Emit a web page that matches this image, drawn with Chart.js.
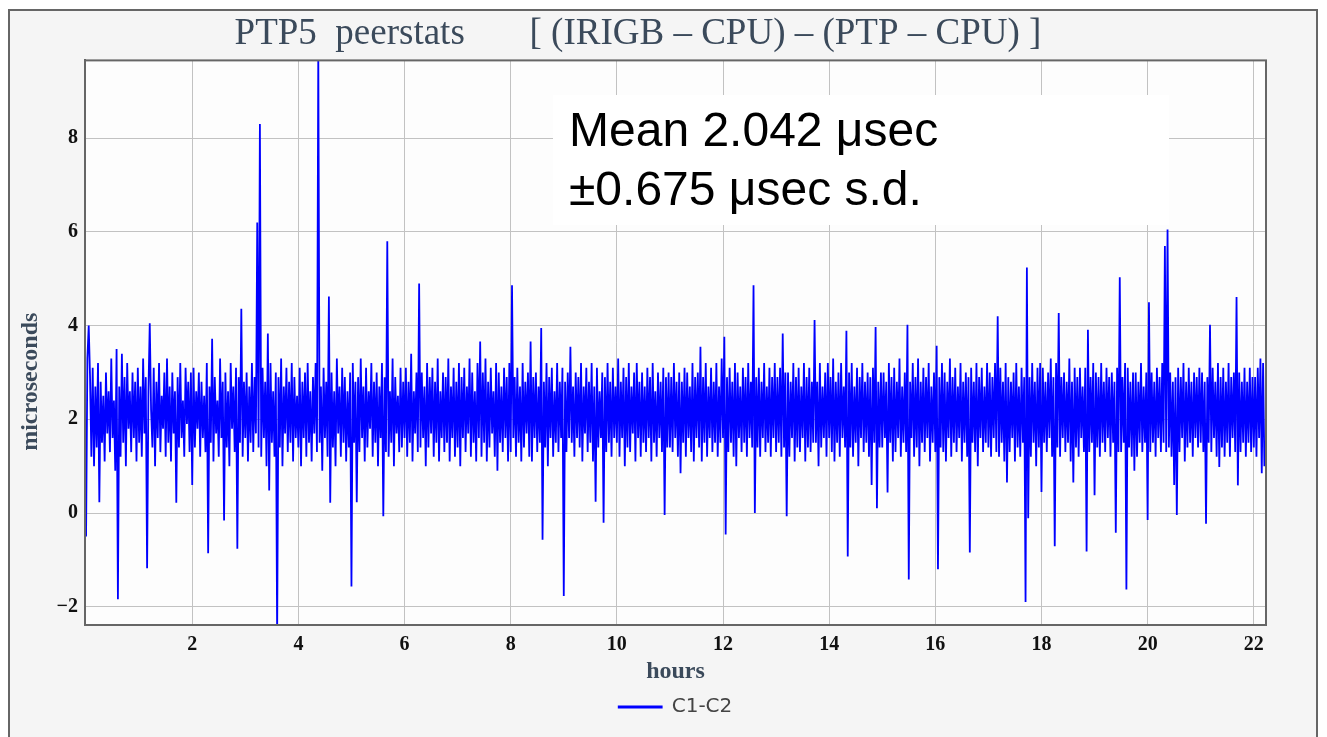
<!DOCTYPE html>
<html>
<head>
<meta charset="utf-8">
<script src="https://cdn.jsdelivr.net/npm/chart.js@4.4.1/dist/chart.umd.min.js"></script>
<style>
  html, body { margin: 0; padding: 0; background: #fff; }
</style>
</head>
<body>
<canvas id="myChart" width="1327" height="737"></canvas>
<script>
const canvas = document.getElementById('myChart')

// one reading every 0.025 h (90 s), values in microseconds
const sampleHours = 0.025

// C1-C2 offset, one row per hour
const c1c2Hours0to5 = [
  -0.5, 3.3, 4.0, 2.9, 1.2, 3.1, 1.0, 2.7, 1.4, 3.2, 0.23, 2.8, 1.5, 2.5, 1.1, 3.0, 1.7, 2.6, 1.3, 3.3,
  1.6, 2.4, 0.9, 3.5, -1.84, 2.7, 1.2, 3.4, 1.5, 2.9, 1.0, 3.2, 1.8, 2.6, 1.3, 3.0, 1.6, 2.8, 1.1, 3.1,
  1.5, 2.7, 1.2, 3.3, 1.7, 2.9, -1.18, 2.6, 4.05, 2.2, 1.4, 3.1, 1.0, 2.8, 1.6, 3.2, 1.3, 2.5, 1.8, 3.0,
  1.2, 3.3, 1.5, 2.7, 1.1, 3.0, 1.7, 2.6, 0.22, 2.9, 1.4, 3.2, 1.6, 2.4, 1.2, 3.1, 1.9, 2.8, 1.3, 3.0,
  0.6, 3.1, 1.4, 2.6, 1.8, 3.0, 1.2, 2.8, 1.6, 2.5, 1.3, 3.2, -0.86, 2.7, 1.5, 3.72, 1.1, 2.9, 1.7, 2.4,
  1.2, 3.3, 1.6, 2.8, -0.16, 3.0, 1.4, 2.6, 1.0, 3.2, 1.8, 2.7, 1.3, 3.1, -0.76, 2.9, 1.5, 4.36, 1.2, 2.8,
  1.6, 3.0, 1.1, 2.7, 1.5, 3.2, 1.3, 2.9, 1.7, 6.2, 1.4, 8.3, 1.2, 3.1, 1.6, 2.8, 1.0, 3.83, 0.48, 3.2,
  1.5, 2.6, 1.2, 3.0, -2.6, 2.9, 1.4, 3.3, 1.0, 2.7, 1.7, 3.1, 1.3, 2.8, 1.5, 3.2, 1.1, 2.9, 1.6, 2.5,
  1.4, 3.1, 1.0, 2.8, 1.6, 3.0, 1.2, 3.2, 1.5, 2.6, 1.1, 2.9, 1.7, 3.2, 1.3, 9.9, 1.5, 2.7, 0.9, 3.1,
  1.6, 2.8, 1.2, 4.62, 0.22, 3.0, 1.4, 2.6, 1.0, 3.3, 1.7, 2.7, 1.2, 3.1, 1.5, 2.9, 1.1, 2.6, 1.4, 3.0,
  -1.57, 3.2, 1.5, 2.8, 0.23, 2.9, 1.3, 3.3, 1.6, 2.7, 1.1, 3.1, 1.4, 2.6, 1.8, 3.2, 1.2, 2.8, 1.5, 3.0,
  1.0, 2.7, 1.6, 3.2, -0.07, 2.9, 1.3, 5.8, 1.2, 2.6, 1.5, 3.3, 1.0, 2.9, 1.7, 2.5, 1.3, 3.1, 1.4, 2.8
]
const c1c2Hours6to11 = [
  1.6, 3.1, 1.2, 2.8, 1.5, 3.4, 1.1, 2.6, 1.7, 3.0, 1.3, 4.9, 1.4, 3.0, 1.6, 2.7, 1.0, 3.2, 1.4, 2.9,
  1.7, 3.1, 1.2, 2.8, 1.5, 3.3, 1.1, 2.6, 1.6, 3.0, 1.3, 2.9, 1.5, 3.3, 1.1, 2.7, 1.6, 3.1, 1.2, 2.8,
  1.4, 3.2, 1.0, 2.9, 1.6, 3.1, 1.3, 2.7, 1.7, 3.3, 1.2, 3.0, 1.5, 2.6, 1.1, 3.2, 1.6, 3.66, 1.2, 3.0,
  1.5, 3.3, 1.1, 2.8, 1.4, 3.1, 1.7, 2.6, 1.2, 3.2, 0.9, 3.0, 1.5, 2.7, 1.3, 3.1, 1.6, 2.9, 1.1, 3.2,
  1.3, 4.86, 1.6, 2.9, 1.2, 3.1, 1.5, 2.7, 1.1, 3.2, 1.4, 2.8, 1.7, 3.0, 1.2, 3.66, 1.1, 2.9, 1.6, 3.0,
  1.3, 2.7, 1.5, 3.95, -0.57, 2.8, 1.4, 3.2, 1.0, 2.9, 1.6, 3.1, 1.2, 2.6, 1.5, 3.2, 1.3, 2.8, 1.6, 3.1,
  -1.77, 2.8, 1.3, 3.0, 1.6, 3.55, 1.5, 2.7, 1.2, 3.0, 1.6, 2.9, 1.4, 3.2, 1.1, 2.7, 1.7, 3.1, 1.3, 2.8,
  1.5, 3.2, 1.1, 2.7, 0.24, 3.1, 1.4, 2.6, 1.6, 3.0, -0.21, 2.9, 1.3, 3.2, 1.5, 2.8, 1.2, 3.1, 1.6, 2.7,
  1.5, 3.3, 1.2, 2.8, 1.6, 3.1, 1.0, 2.9, 1.4, 3.2, 1.3, 2.7, 1.7, 3.0, 1.1, 3.2, 1.6, 2.8, 1.2, 3.0,
  1.5, 2.7, 1.3, 3.1, 1.6, 2.9, 1.1, 3.2, 1.5, 2.6, 1.2, 3.0, 1.6, 2.8, 1.3, 3.1, -0.04, 2.9, 1.4, 3.0,
  1.4, 2.9, 1.3, 3.2, 1.6, 2.8, 1.2, 3.0, 0.85, 2.8, 1.5, 3.1, 1.2, 3.0, 1.6, 2.7, 1.3, 3.2, 1.1, 2.9,
  1.6, 3.0, 1.4, 3.55, 1.1, 2.9, 1.5, 3.2, 1.2, 2.7, 1.6, 3.1, 1.3, 2.8, 1.5, 3.2, 1.2, 2.7, 1.5, 3.3
]
const c1c2Hours12to17 = [
  1.6, 3.76, -0.46, 2.9, 1.3, 3.1, 1.5, 2.8, 1.2, 3.2, 1.0, 3.0, 1.6, 2.7, 1.3, 3.1, 1.5, 2.9, 1.2, 3.2,
  1.6, 2.8, 1.4, 4.86, 0.0, 2.9, 1.4, 3.1, 1.2, 2.8, 1.6, 3.2, 1.3, 2.7, 1.5, 3.1, 1.2, 2.9, 1.6, 3.2,
  1.3, 2.9, 1.5, 3.1, 1.2, 3.83, 1.4, 3.0, -0.07, 3.0, 1.2, 2.8, 1.6, 3.2, 1.1, 2.9, 1.4, 3.1, 1.3, 2.7,
  1.6, 3.2, 1.1, 2.9, 1.4, 3.1, 1.3, 2.8, 1.5, 4.12, 1.5, 2.8, 1.0, 3.2, 1.4, 2.7, 1.6, 3.0, 1.2, 3.2,
  1.6, 2.9, 1.3, 3.3, 1.1, 2.8, 1.5, 3.0, 1.2, 3.2, 1.6, 2.7, 1.4, 3.89, -0.93, 3.0, 1.4, 3.2, 1.2, 2.7,
  1.5, 3.1, 1.0, 2.9, 1.6, 3.2, 1.3, 2.8, 1.5, 3.0, 1.2, 2.9, 0.6, 3.1, 1.5, 3.97, 0.1, 2.8, 1.4, 3.0,
  1.4, 3.0, 1.6, 2.8, 0.44, 3.2, 1.5, 2.9, 1.1, 3.1, 1.3, 2.8, 1.6, 3.3, 1.2, 2.7, 1.5, 3.0, 1.3, 4.02,
  -1.42, 2.8, 1.6, 3.2, 1.2, 2.9, 1.4, 3.3, 1.0, 2.8, 1.5, 3.1, 1.3, 2.9, 1.6, 3.2, 1.1, 2.7, 1.5, 3.0,
  1.3, 3.57, -1.2, 2.9, 1.4, 3.2, 1.3, 3.0, 1.1, 2.8, 1.6, 3.3, 1.2, 2.9, 1.5, 3.1, 1.3, 2.7, 1.6, 3.2,
  1.1, 2.8, 1.5, 3.0, 1.2, 2.9, -0.84, 3.1, 1.5, 2.8, 1.3, 3.2, 1.0, 2.9, 1.6, 3.1, 1.3, 2.7, 1.5, 3.2,
  1.4, 3.0, 1.2, 2.9, 1.6, 3.2, 1.3, 4.2, 1.2, 3.1, 1.5, 2.8, 1.1, 3.2, 0.65, 2.9, 1.3, 2.8, 1.6, 3.0,
  1.1, 3.2, 1.4, 2.7, 1.2, 3.1, 1.5, 2.9, -1.9, 5.24, -0.11, 2.9, 1.2, 3.2, 1.5, 2.8, 1.0, 3.1, 1.4, 3.2
]
const c1c2Hours18to22 = [
  0.45, 3.1, 1.5, 2.8, 1.3, 3.0, 1.6, 3.3, 1.2, 2.9, -0.71, 3.2, 1.4, 4.27, 1.2, 2.9, 1.6, 3.0, 1.3, 2.8,
  1.5, 3.3, 1.1, 2.8, 0.65, 3.1, 1.4, 2.9, 1.2, 3.1, 1.6, 2.7, 1.3, 3.1, -0.82, 3.91, 1.3, 2.9, 1.5, 3.2,
  0.38, 3.0, 1.4, 2.9, 1.2, 3.2, 1.5, 2.8, 1.3, 3.1, 1.6, 2.9, 1.2, 3.0, 1.5, 2.8, -0.42, 3.1, 1.3, 5.03,
  1.3, 2.9, 1.5, 3.2, -1.63, 3.1, 1.4, 2.8, 1.2, 3.0, 0.9, 3.0, 1.2, 2.8, 1.5, 3.2, 1.3, 2.7, 1.5, 3.0,
  -0.15, 4.5, 1.3, 3.0, 1.5, 2.8, 1.2, 3.1, 1.6, 2.9, 1.3, 3.2, 1.5, 5.7, 1.3, 6.05, 1.4, 3.0, 1.2, 2.8,
  0.6, 2.9, -0.04, 3.1, 1.3, 2.9, 1.6, 3.2, 1.1, 2.8, 1.4, 3.1, 1.5, 2.8, 1.2, 3.0, 1.6, 2.9, 1.4, 3.1,
  1.5, 3.0, 1.3, 2.8, -0.23, 2.9, 1.5, 4.02, 1.3, 3.1, 1.6, 2.8, 1.2, 3.2, 0.98, 2.9, 1.4, 3.1, 1.2, 2.8,
  1.5, 3.2, 1.2, 2.9, 1.6, 3.0, 1.3, 4.61, 0.59, 3.0, 1.3, 2.8, 1.5, 3.1, 1.2, 2.8, 1.5, 3.1, 1.3, 2.9,
  1.4, 2.9, 1.2, 3.1, 1.6, 3.3, 0.85, 3.2, 1.0
]

const xTicks = [2, 4, 6, 8, 10, 12, 14, 16, 18, 20, 22]
const yTicks = [-2, 0, 2, 4, 6, 8]
const statLines = ['Mean 2.042 \u03bcsec', '\u00b10.675 \u03bcsec s.d.']

const c1c2 = [...c1c2Hours0to5, ...c1c2Hours6to11, ...c1c2Hours12to17, ...c1c2Hours18to22]
const points = c1c2.map((v, i) => ({x: i * sampleHours, y: v}))

const titleColor = '#3b4a5b'
const serif = "'Liberation Serif', 'Times New Roman', serif"

// frame, panel background, stats box
const framePlugin = {
  id: 'frame',
  beforeDraw(chart) {
    const {ctx, chartArea: a} = chart
    ctx.save()
    ctx.fillStyle = '#ffffff'
    ctx.fillRect(0, 0, chart.width, chart.height)
    ctx.fillStyle = '#f5f5f5'
    ctx.fillRect(9, 10, 1308, 740)
    ctx.strokeStyle = '#666'
    ctx.lineWidth = 2
    ctx.strokeRect(9, 10, 1308, 740)
    ctx.fillStyle = '#fdfdfd'
    ctx.fillRect(a.left, a.top, a.right - a.left, a.bottom - a.top)
    ctx.restore()
  },
  beforeDatasetsDraw(chart) {
    const {ctx} = chart
    ctx.save()
    ctx.fillStyle = '#ffffff'
    ctx.fillRect(553, 95, 616, 130)
    ctx.fillStyle = '#000'
    ctx.font = "48px 'Liberation Sans', Arial, sans-serif"
    ctx.textBaseline = 'alphabetic'
    ctx.fillText(statLines[0], 569, 146)
    ctx.fillText(statLines[1], 569, 205)
    ctx.restore()
  },
  afterDatasetsDraw(chart) {
    const {ctx, chartArea: a} = chart
    ctx.save()
    ctx.strokeStyle = '#666'
    ctx.lineWidth = 2
    ctx.strokeRect(a.left, a.top, a.right - a.left, a.bottom - a.top)
    ctx.restore()
  }
}

const config = {
  type: 'line',
  data: {
    datasets: [{
      label: 'C1-C2',
      data: points,
      borderColor: '#0000ff',
      backgroundColor: '#0000ff',
      borderWidth: 1.8,
      borderJoinStyle: 'miter',
      pointRadius: 0,
      tension: 0
    }]
  },
  options: {
    responsive: false,
    animation: false,
    events: [],
    layout: {
      padding: {left: 10, right: 61, top: 10, bottom: 10}
    },
    plugins: {
      title: {
        display: true,
        text: 'PTP5  peerstats       [ (IRIGB \u2013 CPU) \u2013 (PTP \u2013 CPU) ]',
        color: titleColor,
        font: {family: serif, size: 37, weight: 'normal'},
        padding: {top: 2, bottom: 4}
      },
      legend: {
        position: 'bottom',
        fullSize: false,
        labels: {
          boxWidth: 43,
          boxHeight: 1,
          padding: 10,
          color: '#444',
          font: {family: "'DejaVu Sans', sans-serif", size: 20}
        }
      },
      tooltip: {enabled: false}
    },
    scales: {
      x: {
        type: 'linear',
        min: -0.02,
        max: 22.23,
        afterBuildTicks: scale => { scale.ticks = xTicks.map(v => ({value: v})) },
        afterFit: scale => { scale.height = 62 },
        grid: {color: '#c2c2c2', drawTicks: false},
        border: {color: '#5e5e5e', width: 2},
        ticks: {
          padding: 8,
          color: '#111',
          font: {family: serif, size: 20, weight: 'bold'}
        },
        title: {
          display: true,
          text: 'hours',
          color: titleColor,
          font: {family: serif, size: 24, weight: 'bold'},
          padding: {top: 0, bottom: 1}
        }
      },
      y: {
        min: -2.39,
        max: 9.66,
        afterBuildTicks: scale => { scale.ticks = yTicks.map(v => ({value: v})) },
        afterFit: scale => { scale.width = 75 },
        grid: {color: '#c2c2c2', drawTicks: false},
        border: {color: '#5e5e5e', width: 2},
        ticks: {
          padding: 7,
          color: '#111',
          font: {family: serif, size: 20, weight: 'bold'},
          callback: v => String(v).replace('-', '\u2212')
        },
        title: {
          display: true,
          text: 'microseconds             ',
          color: titleColor,
          font: {family: serif, size: 24, weight: 'bold'},
          padding: {top: 6, bottom: 0}
        }
      }
    }
  },
  plugins: [framePlugin]
}

const myChart = new Chart(canvas, config)
</script>
</body>
</html>
